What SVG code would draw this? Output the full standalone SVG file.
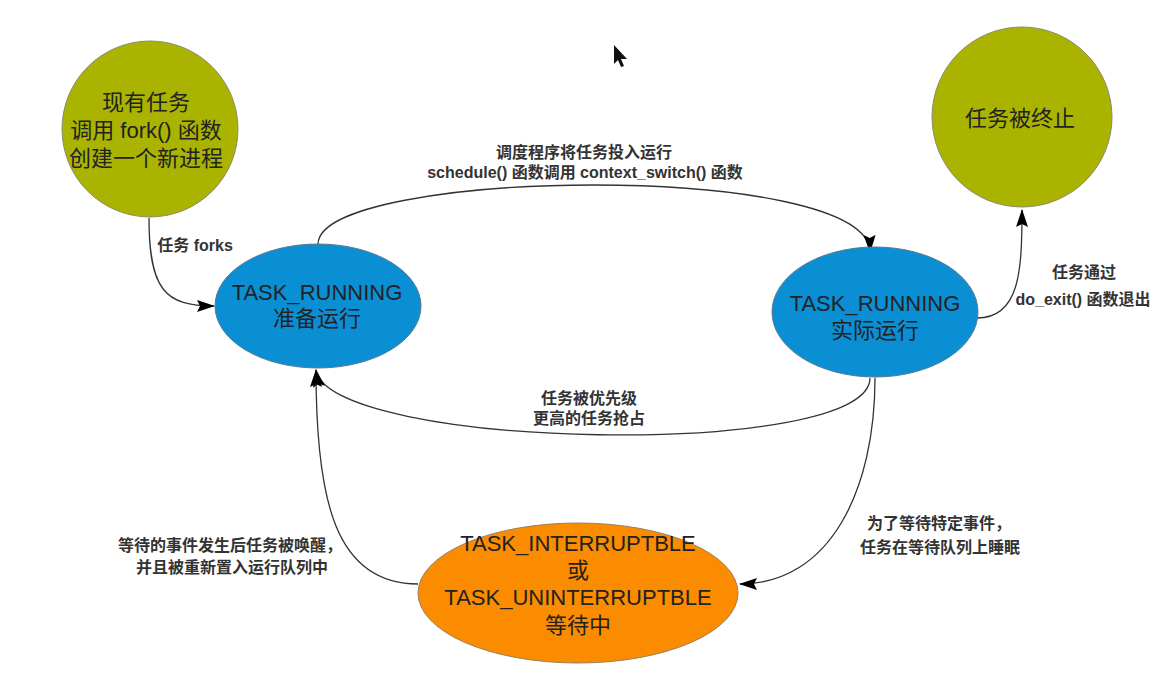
<svg xmlns="http://www.w3.org/2000/svg" width="1171" height="675" viewBox="0 0 1171 675">
<defs>
<marker id="ah" viewBox="0 0 18 12" refX="17" refY="6" markerWidth="18" markerHeight="12" markerUnits="userSpaceOnUse" orient="auto">
<path d="M0,0 L18,6 L0,12 L3,6 Z" fill="#000"/>
</marker>
</defs>
<style>
.olive{fill:#aab400;stroke:#8a8a70;stroke-width:1}
.blue{fill:#0a8fd4;stroke:#5a7a90;stroke-width:1}
.orange{fill:#fb8c00;stroke:#9a8060;stroke-width:1}
.nt{font-family:"Liberation Sans","Noto Sans CJK SC",sans-serif;font-size:22px;fill:#222;text-anchor:middle}
.lb{font-family:"Liberation Sans","Noto Sans CJK SC",sans-serif;font-size:16px;font-weight:bold;fill:#333;text-anchor:middle}
.edge{fill:none;stroke:#333;stroke-width:1.3;marker-end:url(#ah)}
</style>
<rect width="1171" height="675" fill="#fff"/>
<g id="connectors">
<path class="edge" d="M149,218 C149,290 165,306 214,306"/>
<path class="edge" d="M318,244 C320,168 868,160 870,252"/>
<path class="edge" d="M977,318 C1020,318 1022,270 1022,210"/>
<path class="edge" d="M870,378 C870,460 330,450 316,370"/>
<path class="edge" d="M875,378 C875,490 830,584 740,584"/>
<path class="edge" d="M418,584 C335,584 316,500 316,370"/>
<text class="lb" x="195" y="251">任务 forks</text>
<text class="lb" x="584" y="158">调度程序将任务投入运行</text>
<text class="lb" x="585" y="178">schedule() 函数调用 context_switch() 函数</text>
<text class="lb" x="1084" y="278">任务通过</text>
<text class="lb" x="1083" y="305">do_exit() 函数退出</text>
<text class="lb" x="589" y="404">任务被优先级</text>
<text class="lb" x="589" y="424">更高的任务抢占</text>
<text class="lb" x="939" y="529">为了等待特定事件，</text>
<text class="lb" x="940" y="553">任务在等待队列上睡眠</text>
<text class="lb" x="230" y="551">等待的事件发生后任务被唤醒，</text>
<text class="lb" x="232" y="573">并且被重新置入运行队列中</text>
</g>
<g id="fork">
<circle class="olive" cx="150" cy="129" r="88"/>
<text class="nt" x="146" y="110">现有任务</text>
<text class="nt" x="146" y="138">调用 fork() 函数</text>
<text class="nt" x="146" y="166">创建一个新进程</text>
</g>
<g id="terminated">
<circle class="olive" cx="1022" cy="117" r="90"/>
<text class="nt" x="1020" y="126">任务被终止</text>
</g>
<g id="ready">
<ellipse class="blue" cx="318" cy="306" rx="103" ry="62"/>
<text class="nt" x="317" y="300">TASK_RUNNING</text>
<text class="nt" x="317" y="326">准备运行</text>
</g>
<g id="running">
<ellipse class="blue" cx="875" cy="312" rx="103" ry="65"/>
<text class="nt" x="875" y="311">TASK_RUNNING</text>
<text class="nt" x="875" y="338">实际运行</text>
</g>
<g id="waiting">
<ellipse class="orange" cx="578" cy="593" rx="160" ry="70"/>
<text class="nt" x="578" y="551">TASK_INTERRUPTBLE</text>
<text class="nt" x="578" y="578">或</text>
<text class="nt" x="578" y="605">TASK_UNINTERRUPTBLE</text>
<text class="nt" x="578" y="633">等待中</text>
</g>
<path d="M614,45 L614,64 L618,60 L621,67 L624,66 L621,59 L627,59 Z" fill="#111"/>
</svg>
